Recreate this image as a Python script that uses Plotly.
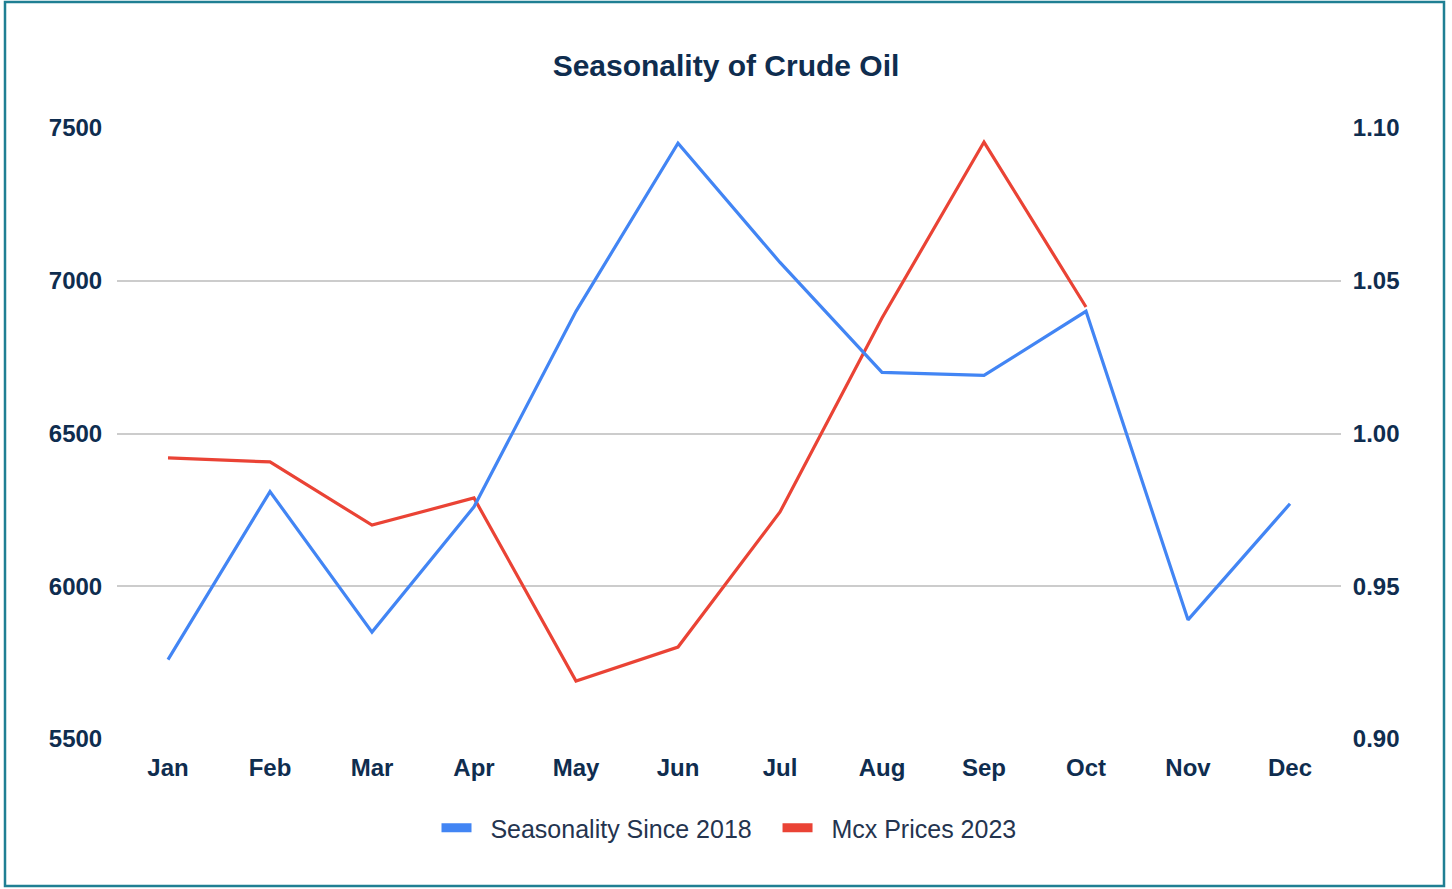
import plotly.graph_objects as go

months = ["Jan", "Feb", "Mar", "Apr", "May", "Jun", "Jul", "Aug", "Sep", "Oct", "Nov", "Dec"]
seasonality = [0.926, 0.981, 0.935, 0.976, 1.040, 1.095, 1.056, 1.020, 1.019, 1.040, 0.939, 0.977]
mcx_months = ["Jan", "Feb", "Mar", "Apr", "May", "Jun", "Jul", "Aug", "Sep", "Oct"]
mcx_prices = [6420, 6407, 6200, 6289, 5690, 5801, 6243, 6878, 7454, 6914]
left_ticks = [5500, 6000, 6500, 7000, 7500]
right_ticks = [0.90, 0.95, 1.00, 1.05, 1.10]

BLUE = "#4285f4"
RED = "#ea4335"
NAVY = "#0f2d4f"
FONT = "Liberation Sans, Arial, sans-serif"
NB = "\u00a0"

fig = go.Figure()
fig.add_trace(go.Scatter(x=months, y=seasonality, name="Seasonality Since 2018",
                         mode="lines", line=dict(color=BLUE, width=3.2), yaxis="y2",
                         showlegend=False))
fig.add_trace(go.Scatter(x=mcx_months, y=mcx_prices, name="Mcx Prices 2023",
                         mode="lines", line=dict(color=RED, width=3.2), yaxis="y",
                         showlegend=False))
# legend entries (thick swatches)
fig.add_trace(go.Scatter(x=[None], y=[None], name=NB * 2 + "Seasonality Since 2018" + NB * 3,
                         mode="lines", line=dict(color=BLUE, width=9), yaxis="y"))
fig.add_trace(go.Scatter(x=[None], y=[None], name=NB * 2 + "Mcx Prices 2023",
                         mode="lines", line=dict(color=RED, width=9), yaxis="y"))

bold_tick = dict(size=24, color=NAVY, family=FONT, weight="bold")

fig.update_layout(
    width=1452, height=889,
    margin=dict(l=117, r=111, t=128, b=150),
    paper_bgcolor="white", plot_bgcolor="white",
    font=dict(family=FONT, color=NAVY),
    title=dict(text="Seasonality of Crude Oil", x=0.5, xanchor="center",
               y=1 - 65 / 889, yanchor="middle",
               font=dict(size=30, color=NAVY, family=FONT, weight="bold")),
    xaxis=dict(type="category", categoryorder="array", categoryarray=months,
               showgrid=False, showline=False, zeroline=False,
               ticks="outside", ticklen=7, tickcolor="rgba(255,255,255,0)",
               tickfont=bold_tick, range=[-0.5, 11.5]),
    yaxis=dict(range=[5500, 7500], tickvals=left_ticks, showgrid=True,
               gridcolor="#cccccc", gridwidth=1.5, zeroline=False, showline=False,
               ticks="outside", ticklen=9, tickcolor="rgba(255,255,255,0)",
               tickfont=bold_tick),
    yaxis2=dict(range=[0.90, 1.10], tickvals=right_ticks, tickformat=".2f",
                overlaying="y", side="right", showgrid=False, zeroline=False,
                showline=False, ticks="outside", ticklen=6,
                tickcolor="rgba(255,255,255,0)", tickfont=bold_tick),
    legend=dict(orientation="h", x=0.5, xanchor="center",
                y=(739 - 828) / 611, yanchor="middle",
                font=dict(size=25, color="#24344f", family=FONT),
                itemwidth=30, traceorder="normal"),
    showlegend=True,
)

fig.add_shape(type="rect", xref="paper", yref="paper",
              x0=(5 - 117) / 1224, x1=(1444 - 117) / 1224,
              y0=(739 - 886) / 611, y1=(739 - 2) / 611,
              line=dict(color="#1f7f93", width=2.5), fillcolor="rgba(0,0,0,0)",
              layer="below")

fig.write_html("out.html", config={"displayModeBar": False},
               post_script="document.body.style.margin='0';document.body.style.overflow='hidden';")
